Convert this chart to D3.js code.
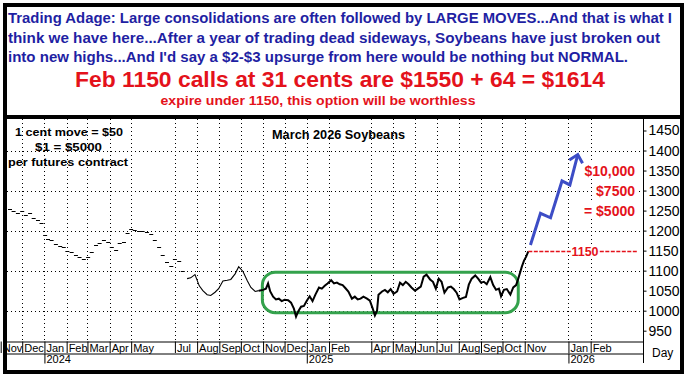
<!DOCTYPE html>
<html>
<head>
<meta charset="utf-8">
<script src="https://cdn.jsdelivr.net/npm/d3@7"></script>
<style>
  body { margin: 0; background: #fff; }
  svg { display: block; font-family: "Liberation Sans", Arial, sans-serif; }
</style>
</head>
<body>
<div class="chart"></div>
<script>
// ---- data ----
// early, thinly traded part: drawn as little dashes
var earlyDates = ["2023-11-14","2023-11-19","2023-11-25","2023-12-01","2023-12-06","2023-12-12","2023-12-17","2023-12-23","2023-12-28",
  "2024-01-02","2024-01-06","2024-01-11","2024-01-17","2024-01-23","2024-01-28","2024-02-02","2024-02-08","2024-02-14","2024-02-19","2024-02-25",
  "2024-03-02","2024-03-07","2024-03-13","2024-03-18","2024-03-24","2024-03-30","2024-04-04","2024-04-10","2024-04-15","2024-04-21","2024-04-26",
  "2024-05-01","2024-05-06","2024-05-12","2024-05-17","2024-05-23","2024-05-29","2024-06-03","2024-06-09","2024-06-14","2024-06-20","2024-06-26",
  "2024-07-01","2024-07-07","2024-07-12"];
var earlyPrices = [1255,1250,1245,1250,1240,1244,1232,1226,1218,
  1190,1180,1176,1166,1162,1158,1150,1146,1140,1134,1129,
  1135,1146,1165,1170,1176,1172,1160,1152,1168,1172,1195,
  1205,1202,1200,1198,1196,1192,1176,1158,1140,1122,1112,
  1128,1124,1098];

// later part: continuous line
var lateDates = ["2024-07-18","2024-07-23","2024-07-29","2024-08-04","2024-08-09","2024-08-15","2024-08-20","2024-08-26","2024-08-31",
  "2024-09-06","2024-09-12","2024-09-17","2024-09-23","2024-09-28","2024-10-04","2024-10-10","2024-10-15","2024-10-21","2024-10-26",
  "2024-11-01","2024-11-05","2024-11-08","2024-11-11","2024-11-15","2024-11-19","2024-11-23","2024-11-27","2024-12-01","2024-12-06",
  "2024-12-10","2024-12-14","2024-12-17","2024-12-20","2024-12-24","2024-12-28","2025-01-01","2025-01-05","2025-01-09","2025-01-13",
  "2025-01-18","2025-01-22","2025-01-26","2025-01-30","2025-02-04","2025-02-08","2025-02-12","2025-02-16","2025-02-20","2025-02-24",
  "2025-02-28","2025-03-05","2025-03-09","2025-03-13","2025-03-17","2025-03-21","2025-03-26","2025-03-30","2025-04-03","2025-04-06",
  "2025-04-09","2025-04-11","2025-04-16","2025-04-20","2025-04-24","2025-04-28","2025-05-02","2025-05-07","2025-05-11","2025-05-15",
  "2025-05-19","2025-05-23","2025-05-27","2025-06-01","2025-06-05","2025-06-09","2025-06-13","2025-06-17","2025-06-22","2025-06-26",
  "2025-06-30","2025-07-04","2025-07-08","2025-07-12","2025-07-17","2025-07-21","2025-07-25","2025-07-29","2025-08-02","2025-08-07",
  "2025-08-11","2025-08-15","2025-08-19","2025-08-24","2025-08-28","2025-09-01","2025-09-05","2025-09-09","2025-09-14","2025-09-18",
  "2025-09-22","2025-09-26","2025-09-29","2025-10-03","2025-10-07","2025-10-12","2025-10-16","2025-10-20","2025-10-23","2025-10-25",
  "2025-10-28","2025-10-31","2025-11-03","2025-11-06"];
var latePrices = [1080,1082,1090,1062,1050,1040,1038,1046,1055,
  1074,1076,1078,1092,1110,1098,1075,1058,1048,1050,
  1052,1055,1068,1048,1035,1028,1030,1024,1027,1026,
  1020,1005,985,998,1010,1012,1025,1036,1024,1040,
  1058,1055,1062,1068,1076,1068,1070,1066,1064,1056,
  1048,1030,1035,1028,1030,1035,1030,1025,1005,988,
  1000,1040,1048,1052,1046,1054,1042,1048,1070,1064,
  1072,1066,1058,1050,1055,1060,1085,1090,1078,1072,
  1055,1080,1072,1045,1058,1060,1054,1045,1028,1032,
  1034,1065,1080,1088,1080,1070,1072,1066,1084,1064,
  1052,1055,1036,1052,1054,1040,1058,1064,1080,1092,
  1110,1125,1135,1148];

// projected path (blue arrow)
var projDates = ["2025-11-09","2025-11-23","2025-12-07","2025-12-23","2026-01-03","2026-01-14"];
var projPrices = [1164,1243,1232,1324,1314,1390];

// consolidation box, strike line
var boxDates = ["2024-10-31","2025-10-23"];
var boxPrices = [995,1096];
var strikePrice = 1150;
var strikeStart = "2025-11-06";

// payoff labels
var payoffLabels = ["$10,000","$7500","= $5000"];
var payoffPrices = [1350,1300,1250];

// axes
var priceTicks = [950,1000,1050,1100,1150,1200,1250,1300,1350,1400,1450];
var gridPrices = [1000,1100,1200,1300,1400];
var monthTicks = ["2023-11-01","2023-12-01","2024-01-01","2024-02-01","2024-03-01","2024-04-01","2024-05-01","2024-07-01",
  "2024-08-01","2024-09-01","2024-10-01","2024-11-01","2024-12-01","2025-01-01","2025-02-01","2025-04-01","2025-05-01",
  "2025-06-01","2025-07-01","2025-08-01","2025-09-01","2025-10-01","2025-11-01","2026-01-01","2026-02-01"];
var yearTicks = ["2024-01-01","2025-01-01","2026-01-01"];

// header text
var headerLines = [
  "Trading Adage: Large consolidations are often followed by LARGE MOVES...And that is what I",
  "think we have here...After a year of trading dead sideways, Soybeans have just broken out",
  "into new highs...And I'd say a $2-$3 upsurge from here would be nothing but NORMAL."
];
var headerWidths = [664, 652, 620];

// ---- drawing ----
var svgWidth = 687;
var svgHeight = 382;
var parse = d3.timeParse("%Y-%m-%d");
var blue = "#1f1fa3";
var red = "#e4121b";

var svg = d3.select(".chart")
  .append("svg")
  .attr("width", svgWidth)
  .attr("height", svgHeight);

var plotLeft = 7, plotRight = 643, plotTop = 119, plotBottom = 341.5;

var xScale = d3.scaleTime()
  .domain([parse("2023-11-07"), parse("2026-04-15")])
  .range([5, 643]);

var yScale = d3.scaleLinear()
  .domain([950, 1450])
  .range([330.7, 130.5]);

// clip for the plot area
svg.append("clipPath").attr("id", "plotclip")
  .append("rect")
  .attr("x", plotLeft).attr("y", plotTop)
  .attr("width", plotRight - plotLeft).attr("height", plotBottom - plotTop);

var plot = svg.append("g").attr("clip-path", "url(#plotclip)");

// dotted grid
plot.selectAll(".hgrid")
  .data(gridPrices)
  .enter()
  .append("line")
  .attr("x1", plotLeft).attr("x2", plotRight)
  .attr("y1", d => Math.round(yScale(d)) + 0.5)
  .attr("y2", d => Math.round(yScale(d)) + 0.5)
  .attr("stroke", "#000")
  .attr("shape-rendering", "crispEdges")
  .attr("stroke-dasharray", "1,3");

plot.selectAll(".vgrid")
  .data(monthTicks.map(parse))
  .enter()
  .append("line")
  .attr("x1", d => Math.round(xScale(d)) + 0.5)
  .attr("x2", d => Math.round(xScale(d)) + 0.5)
  .attr("y1", plotTop).attr("y2", plotBottom)
  .attr("stroke", "#000")
  .attr("shape-rendering", "crispEdges")
  .attr("stroke-dasharray", "1,3");

// header box text
var header = svg.append("g");
header.selectAll("text.blue")
  .data(headerLines)
  .enter()
  .append("text")
  .attr("x", 8)
  .attr("y", (d, i) => 23 + i * 19.5)
  .attr("textLength", (d, i) => headerWidths[i])
  .attr("lengthAdjust", "spacingAndGlyphs")
  .attr("font-size", "14px")
  .attr("font-weight", "bold")
  .attr("fill", blue)
  .text(d => d);

header.append("text")
  .attr("x", 340).attr("y", 86.5)
  .attr("text-anchor", "middle")
  .attr("textLength", 530)
  .attr("lengthAdjust", "spacingAndGlyphs")
  .attr("font-size", "21.5px")
  .attr("font-weight", "bold")
  .attr("fill", red)
  .text("Feb 1150 calls at 31 cents are $1550 + 64 = $1614");

header.append("text")
  .attr("x", 318).attr("y", 104.5)
  .attr("text-anchor", "middle")
  .attr("textLength", 315)
  .attr("lengthAdjust", "spacingAndGlyphs")
  .attr("font-size", "12.5px")
  .attr("font-weight", "bold")
  .attr("fill", red)
  .text("expire under 1150, this option will be worthless");

// notes in the chart
var notes = [["1 cent move = $50", 15, 135.5, 108], ["$1 = $5000", 35, 151, 67], ["per futures contract", 8, 166, 120]];
svg.selectAll(".note")
  .data(notes)
  .enter()
  .append("text")
  .attr("x", d => d[1]).attr("y", d => d[2])
  .attr("textLength", d => d[3])
  .attr("lengthAdjust", "spacingAndGlyphs")
  .attr("font-size", "11.5px")
  .attr("font-weight", "bold")
  .attr("fill", "#000")
  .text(d => d[0]);

svg.append("text")
  .attr("x", 338.5).attr("y", 139)
  .attr("text-anchor", "middle")
  .attr("textLength", 133)
  .attr("lengthAdjust", "spacingAndGlyphs")
  .attr("font-size", "13.5px")
  .attr("font-weight", "bold")
  .text("March 2026 Soybeans");

// consolidation box
plot.append("rect")
  .attr("x", xScale(parse(boxDates[0])))
  .attr("y", yScale(boxPrices[1]))
  .attr("width", xScale(parse(boxDates[1])) - xScale(parse(boxDates[0])))
  .attr("height", yScale(boxPrices[0]) - yScale(boxPrices[1]))
  .attr("rx", 13).attr("ry", 13)
  .attr("fill", "none")
  .attr("stroke", "#34a24c")
  .attr("stroke-width", 3);

// early dashes
var early = earlyDates.map((d, i) => ({date: parse(d), price: earlyPrices[i]}));
plot.selectAll(".dash")
  .data(early)
  .enter()
  .append("line")
  .attr("x1", d => xScale(d.date) - 2)
  .attr("x2", d => xScale(d.date) + 2)
  .attr("y1", d => Math.round(yScale(d.price)) + 0.5)
  .attr("y2", d => Math.round(yScale(d.price)) + 0.5)
  .attr("stroke", "#000")
  .attr("stroke-width", 1);

// later line
var late = lateDates.map((d, i) => ({date: parse(d), price: latePrices[i]}));
var priceLine = d3.line()
  .x(d => xScale(d.date))
  .y(d => yScale(d.price));

var split = parse("2024-10-26");
plot.append("path")
  .datum(late.filter(d => d.date <= split))
  .attr("d", priceLine)
  .attr("fill", "none")
  .attr("stroke", "#000")
  .attr("stroke-width", 1.1);

plot.append("path")
  .datum(late.filter(d => d.date >= split))
  .attr("d", priceLine)
  .attr("fill", "none")
  .attr("stroke", "#000")
  .attr("stroke-width", 2)
  .attr("stroke-linejoin", "miter");

// strike line with label
var sy = Math.round(yScale(strikePrice)) + 0.5;
plot.append("line")
  .attr("x1", xScale(parse(strikeStart))).attr("x2", 638)
  .attr("y1", sy).attr("y2", sy)
  .attr("stroke", red)
  .attr("stroke-width", 1.3)
  .attr("stroke-dasharray", "4,1.5");
plot.append("rect")
  .attr("x", 571).attr("y", sy - 6).attr("width", 28).attr("height", 12)
  .attr("fill", "#fff");
plot.append("text")
  .attr("x", 585).attr("y", sy)
  .attr("dy", "0.36em")
  .attr("text-anchor", "middle")
  .attr("font-size", "12.5px")
  .attr("font-weight", "bold")
  .attr("fill", red)
  .text(strikePrice);

// payoff labels on white
var payoff = plot.selectAll(".payoff")
  .data(payoffLabels)
  .enter()
  .append("g")
  .attr("transform", (d, i) => "translate(635," + yScale(payoffPrices[i]) + ")");
payoff.append("text")
  .attr("dy", "0.36em")
  .attr("text-anchor", "end")
  .attr("font-size", "14px")
  .attr("font-weight", "bold")
  .attr("fill", red)
  .text(d => d);
payoff.each(function() {
  var g = d3.select(this);
  var b = g.select("text").node().getBBox();
  g.insert("rect", "text")
    .attr("x", b.x - 3).attr("y", b.y)
    .attr("width", b.width + 5).attr("height", b.height)
    .attr("fill", "#fff");
});

// projection arrow
var proj = projDates.map((d, i) => ({date: parse(d), price: projPrices[i]}));
plot.append("path")
  .datum(proj)
  .attr("d", priceLine)
  .attr("fill", "none")
  .attr("stroke", "#3d4dc6")
  .attr("stroke-width", 3)
  .attr("stroke-linejoin", "miter");

var tip = proj[proj.length - 1], prev = proj[proj.length - 2];
var tx = xScale(tip.date), ty = yScale(tip.price);
var ang = Math.atan2(yScale(prev.price) - ty, xScale(prev.date) - tx);
var arm = 10, spread = 43 * Math.PI / 180;
plot.append("path")
  .attr("d", "M" + (tx + arm * Math.cos(ang - spread)) + "," + (ty + arm * Math.sin(ang - spread)) +
             "L" + tx + "," + ty +
             "L" + (tx + arm * Math.cos(ang + spread)) + "," + (ty + arm * Math.sin(ang + spread)))
  .attr("fill", "none")
  .attr("stroke", "#3d4dc6")
  .attr("stroke-width", 3);

// right price axis
var yAxis = d3.axisRight(yScale)
  .tickValues(priceTicks)
  .tickSize(3)
  .tickPadding(2)
  .tickFormat(d3.format("d"));

svg.append("g")
  .attr("transform", "translate(643.5,0)")
  .call(yAxis)
  .call(g => g.select(".domain").remove())
  .call(g => g.selectAll("text").attr("font-size", "14px").attr("font-family", "Liberation Sans, Arial, sans-serif").attr("fill", "#000"));

svg.append("line")
  .attr("x1", 643.5).attr("x2", 643.5)
  .attr("y1", plotTop).attr("y2", 363)
  .attr("stroke", "#000");

// bottom time axis: months, then years
var xAxis = d3.axisBottom(xScale)
  .tickValues(monthTicks.map(parse))
  .tickSize(11.5)
  .tickSizeOuter(0)
  .tickFormat(d3.timeFormat("%b"));

svg.append("g")
  .attr("transform", "translate(0,341.5)")
  .call(xAxis)
  .call(g => g.selectAll("text")
    .attr("x", 1.5).attr("y", 2).attr("dy", "0.75em")
    .attr("text-anchor", "start")
    .attr("font-size", "11px")
    .attr("font-family", "Liberation Sans, Arial, sans-serif")
    .attr("fill", "#000"));

var yearAxis = d3.axisBottom(xScale)
  .tickValues(yearTicks.map(parse))
  .tickSize(10)
  .tickSizeOuter(0)
  .tickFormat(d3.timeFormat("%Y"));

svg.append("g")
  .attr("transform", "translate(0,353.5)")
  .call(yearAxis)
  .call(g => g.selectAll("text")
    .attr("x", 1.5).attr("y", 1).attr("dy", "0.75em")
    .attr("text-anchor", "start")
    .attr("font-size", "11px")
    .attr("font-family", "Liberation Sans, Arial, sans-serif")
    .attr("fill", "#000"));

svg.append("text")
  .attr("x", 652).attr("y", 357)
  .attr("font-size", "12px")
  .text("Day");

// frame
svg.append("rect")
  .attr("x", 5).attr("y", 5)
  .attr("width", 677).attr("height", 367)
  .attr("fill", "none")
  .attr("stroke", "#000")
  .attr("stroke-width", 4);

svg.append("line")
  .attr("x1", 5).attr("x2", 682)
  .attr("y1", 117).attr("y2", 117)
  .attr("stroke", "#000")
  .attr("stroke-width", 4);
</script>
</body>
</html>
